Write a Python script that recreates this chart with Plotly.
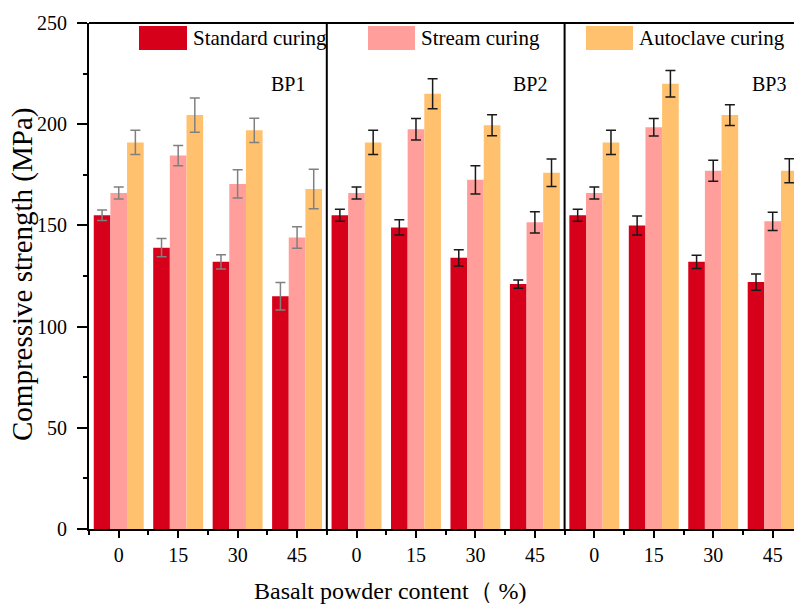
import plotly.graph_objects as go

# ---------------- data ----------------
panels = ["BP1", "BP2", "BP3"]
contents = ["0", "15", "30", "45"]
series_names = ["Standard curing", "Stream curing", "Autoclave curing"]

standard_vals = [155, 139, 132, 115, 155, 149, 134, 121, 155, 150, 132, 122]
standard_err = [2.6, 4.5, 3.5, 6.8, 3.0, 3.8, 4.0, 2.0, 3.0, 4.7, 3.3, 4.0]
stream_vals = [166, 184.5, 170.5, 144, 166, 197.5, 172.5, 151.5, 166, 198.5, 177, 152]
stream_err = [3.0, 5.0, 7.0, 5.3, 3.0, 5.3, 7.0, 5.3, 3.0, 4.3, 5.2, 4.5]
autoclave_vals = [191, 204.5, 197, 168, 191, 215, 199.5, 176, 191, 220, 204.5, 177]
autoclave_err = [6.0, 8.5, 6.0, 9.8, 6.0, 7.4, 5.2, 6.8, 6.0, 6.5, 5.1, 5.9]

y_ticks = [0, 50, 100, 150, 200, 250]

# ---------------- styles ----------------
colors = ["#D7001A", "#FF9E9B", "#FFC16E"]
err_colors = ["#808080", "#1a1a1a", "#1a1a1a"]
FONT = "Liberation Serif, Times New Roman, serif"

values = [standard_vals, stream_vals, autoclave_vals]
errors = [standard_err, stream_err, autoclave_err]
positions = list(range(len(panels) * len(contents)))
tick_text = contents * len(panels)

fig = go.Figure()
n = len(contents)
for p in range(len(panels)):
    sl = slice(p * n, (p + 1) * n)
    for s, name in enumerate(series_names):
        fig.add_trace(go.Bar(
            x=positions[sl],
            y=values[s][sl],
            name=name,
            offsetgroup=name,
            marker=dict(color=colors[s], line=dict(width=0)),
            error_y=dict(type="data", array=errors[s][sl], visible=True,
                         color=err_colors[p], thickness=1.5, width=5),
            showlegend=False,
        ))

W, H = 794, 605
L, R, T, B = 89, 0, 23, 76
pitch = 59.45
x_end = -0.5 + (W - L - R) / pitch

fig.update_layout(
    width=W, height=H,
    margin=dict(l=L, r=R, t=T, b=B),
    barmode="group", bargap=0.16, bargroupgap=0,
    plot_bgcolor="white", paper_bgcolor="white",
    font=dict(family=FONT, size=20, color="black"),
    xaxis=dict(
        range=[-0.5, x_end],
        tickmode="array", tickvals=positions, ticktext=tick_text,
        ticks="outside", ticklen=7, tickwidth=2, tickcolor="black",
        showline=True, linecolor="black", linewidth=2,
        showgrid=False, zeroline=False,
        tickfont=dict(family=FONT, size=20),
        minor=dict(tickvals=[i - 0.5 for i in positions] + [positions[-1] + 0.5],
                   ticks="outside", ticklen=4, tickwidth=2, tickcolor="black"),
    ),
    yaxis=dict(
        range=[0, 250],
        tickmode="array", tickvals=y_ticks,
        ticks="outside", ticklen=10, tickwidth=2, tickcolor="black",
        showline=True, linecolor="black", linewidth=2,
        showgrid=False, zeroline=False,
        tickfont=dict(family=FONT, size=20),
        ticklabelstandoff=6,
        minor=dict(dtick=25, tick0=0, ticks="outside", ticklen=4,
                   tickwidth=2, tickcolor="black"),
    ),
)

shapes = []
# top frame line
shapes.append(dict(type="line", xref="paper", yref="paper", x0=0, x1=1, y0=1, y1=1,
                   line=dict(color="black", width=2)))
# panel separators
for p in range(1, len(panels)):
    xs = p * n - 0.5
    shapes.append(dict(type="line", xref="x", yref="paper", x0=xs, x1=xs, y0=0, y1=1,
                       line=dict(color="black", width=2)))

# custom legend (large swatches)
pw = W - L - R
ph = H - T - B
def px2paper_x(px):
    return (px - L) / pw
def px2paper_y(py):
    return 1 - (py - T) / ph

legend_swatch_px = [(139, 187), (368, 415), (586, 633)]
annotations = []
for s, name in enumerate(series_names):
    x0, x1 = legend_swatch_px[s]
    shapes.append(dict(type="rect", xref="paper", yref="paper",
                       x0=px2paper_x(x0), x1=px2paper_x(x1),
                       y0=px2paper_y(50), y1=px2paper_y(26),
                       fillcolor=colors[s], line=dict(width=0)))
    annotations.append(dict(text=name, xref="paper", yref="paper",
                            x=px2paper_x(x1 + 4), y=px2paper_y(38),
                            xanchor="left", yanchor="middle", showarrow=False,
                            font=dict(family=FONT, size=21, color="black")))

# panel labels
label_x_px = [288, 530, 769]
for p, lab in enumerate(panels):
    annotations.append(dict(text=lab, xref="x", yref="y",
                            x=(label_x_px[p] - L) / pitch - 0.5, y=220,
                            xanchor="center", yanchor="middle", showarrow=False,
                            font=dict(family=FONT, size=20, color="black")))

# axis titles
annotations.append(dict(text="Compressive strength (MPa)", xref="paper", yref="paper",
                        x=px2paper_x(22), y=px2paper_y(275), textangle=-90,
                        xanchor="center", yanchor="middle", showarrow=False,
                        font=dict(family=FONT, size=29, color="black")))
annotations.append(dict(text="Basalt powder content（ %)", xref="paper", yref="paper",
                        x=px2paper_x(390), y=px2paper_y(591),
                        xanchor="center", yanchor="middle", showarrow=False,
                        font=dict(family=FONT, size=24, color="black")))

fig.update_layout(shapes=shapes, annotations=annotations)
fig.write_html("out.html",
               config={"displayModeBar": False},
               post_script="document.body.style.margin='0';document.body.style.padding='0';"
                           "document.documentElement.style.overflow='hidden';")
